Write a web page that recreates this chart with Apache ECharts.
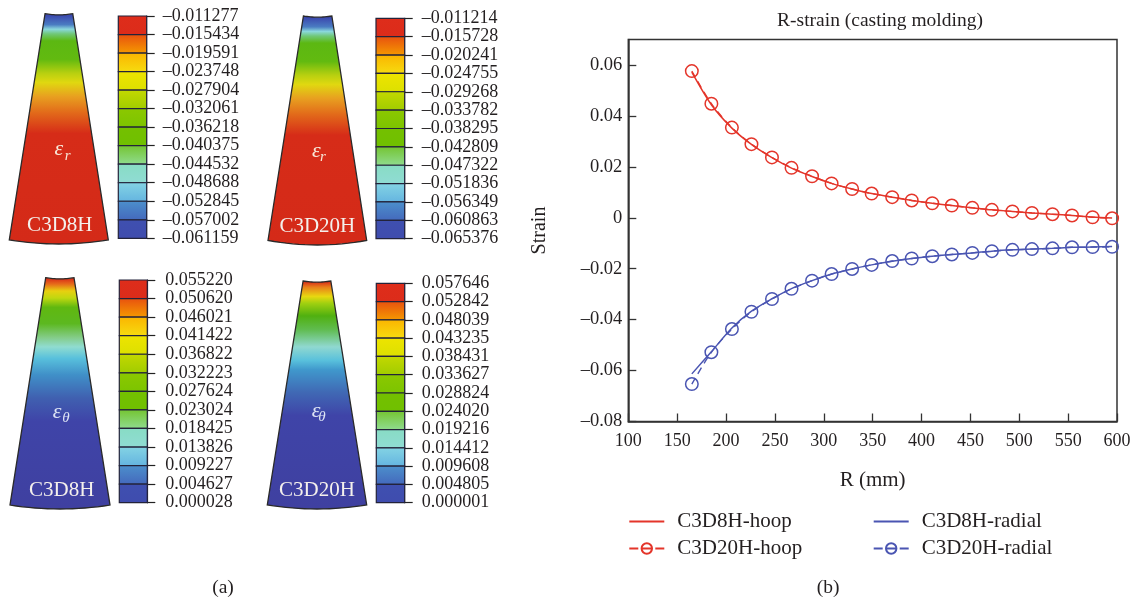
<!DOCTYPE html>
<html>
<head>
<meta charset="utf-8">
<style>html,body{margin:0;padding:0;background:#fff}#c{width:1136px;height:600px}</style>
<script src="https://cdn.jsdelivr.net/npm/echarts@6/dist/echarts.min.js"></script>
</head>
<body>
<div id="c"></div>
<script>
// ---- line chart data (b) ----
const radiusMm = [165,185,206,226,247,267,288,308,329,349,370,390,411,431,452,472,493,513,534,554,575,595];
const hoop8  = [0.0572,0.0444,0.0352,0.0288,0.0236,0.0195,0.0162,0.0135,0.0113,0.0095,0.0081,0.0068,0.0057,0.0048,0.0039,0.0031,0.0025,0.0019,0.0014,0.0009,0.0003,-0.0001];
const hoop20 = [0.0576,0.0448,0.0354,0.0289,0.0237,0.0196,0.0163,0.0135,0.0113,0.0095,0.0081,0.0068,0.0057,0.0048,0.0039,0.0031,0.0025,0.0019,0.0014,0.0009,0.0002,-0.0002];
const radial8  = [-0.0613,-0.0526,-0.0433,-0.0367,-0.0318,-0.0278,-0.0247,-0.0221,-0.0201,-0.0185,-0.0171,-0.0160,-0.0151,-0.0144,-0.0138,-0.0131,-0.0126,-0.0123,-0.0120,-0.0116,-0.0115,-0.0113];
const radial20 = [-0.0653,-0.0528,-0.0437,-0.0369,-0.0319,-0.0279,-0.0247,-0.0221,-0.0201,-0.0185,-0.0170,-0.0160,-0.0151,-0.0144,-0.0138,-0.0131,-0.0126,-0.0123,-0.0120,-0.0116,-0.0115,-0.0114];
const xTicks = [100,150,200,250,300,350,400,450,500,550,600];
const yTicks = [-0.08,-0.06,-0.04,-0.02,0,0.02,0.04,0.06];

// ---- colour bar tick labels (a) ----
const labelsRadial8  = ['–0.011277','–0.015434','–0.019591','–0.023748','–0.027904','–0.032061','–0.036218','–0.040375','–0.044532','–0.048688','–0.052845','–0.057002','–0.061159'];
const labelsRadial20 = ['–0.011214','–0.015728','–0.020241','–0.024755','–0.029268','–0.033782','–0.038295','–0.042809','–0.047322','–0.051836','–0.056349','–0.060863','–0.065376'];
const labelsHoop8  = ['0.055220','0.050620','0.046021','0.041422','0.036822','0.032223','0.027624','0.023024','0.018425','0.013826','0.009227','0.004627','0.000028'];
const labelsHoop20 = ['0.057646','0.052842','0.048039','0.043235','0.038431','0.033627','0.028824','0.024020','0.019216','0.014412','0.009608','0.004805','0.000001'];

// ---- styles ----
const RED = '#E4352A', BLUE = '#4A55B2', INK = '#231F20', SERIF = '"Liberation Serif", serif';
const bandTop = ['#DE2D1B','#E8500F','#FBB400','#EEE400','#C4D800','#8CC800','#74C000','#74C430','#88DCC4','#84D4E4','#4C90CC','#3F50B0'];
const bandBot = ['#DC2C1A','#F59A00','#F6DC10','#DCE000','#A0CC00','#7CC400','#70C000','#90DC90','#90DCD4','#64B4E0','#4468BC','#3F4CAE'];
const gradRadial = [[0.01,'#3B48AE'],[0.05,'#4A7CC2'],[0.07,'#8AD8DC'],[0.09,'#70C878'],[0.12,'#5CB812'],[0.2,'#62BA10'],[0.26,'#B8D010'],[0.3,'#E0D810'],[0.36,'#E8A020'],[0.43,'#E26A1A'],[0.52,'#D62C18'],[1,'#D42A18']];
const gradHoop8 = [[0.005,'#D82A18'],[0.03,'#E66A1A'],[0.06,'#E8D010'],[0.09,'#C0D810'],[0.13,'#60B810'],[0.2,'#5CB820'],[0.26,'#84CC88'],[0.3,'#90DCD0'],[0.35,'#58C0DC'],[0.42,'#4090C8'],[0.52,'#4060B0'],[0.62,'#3F44A8'],[1,'#3F40A0']];
const gradHoop20 = [[0.005,'#D82A18'],[0.03,'#E8801A'],[0.07,'#E8D810'],[0.1,'#A0D010'],[0.155,'#50B010'],[0.215,'#60BC50'],[0.29,'#90D8D0'],[0.35,'#58C0DC'],[0.39,'#4098CC'],[0.49,'#4068B4'],[0.59,'#3F44A8'],[1,'#3F40A0']];

// ---- panel layout ----
const panels = [
 {labels:labelsRadial8, grad:gradRadial, caption:'C3D8H', sym:'r', symColor:'#F8E8D8', bar:[118.3,16,28.4,222.3], margin:16,
  wedge:[9.3,13.7,99,230.3], taper:[0.361,0.641], edge:0.982, capX:0.51, capY:0.92, symX:0.5, symY:0.59, subX:0.59, subY:0.617},
 {labels:labelsRadial20, grad:gradRadial, caption:'C3D20H', sym:'r', symColor:'#F8E8D8', bar:[376,18.3,28.7,220.4], margin:17,
  wedge:[268,16,98.7,229], taper:[0.359,0.647], edge:0.98, capX:0.5, capY:0.92, symX:0.49, symY:0.59, subX:0.557, subY:0.617},
 {labels:labelsHoop8, grad:gradHoop8, caption:'C3D8H', sym:'θ', symColor:'#DDE4F4', bar:[119.3,280,28,222.7], margin:18,
  wedge:[10,277.7,100,231.3], taper:[0.357,0.64], edge:0.983, capX:0.517, capY:0.922, symX:0.47, symY:0.58, subX:0.56, subY:0.606},
 {labels:labelsHoop20, grad:gradHoop20, caption:'C3D20H', sym:'θ', symColor:'#DDE4F4', bar:[376.3,283.3,28.4,219.4], margin:17,
  wedge:[267.3,281,99.4,228], taper:[0.36,0.639], edge:0.982, capX:0.5, capY:0.92, symX:0.49, symY:0.573, subX:0.55, subY:0.595}
];

const grids = [{left:628.3, right:19, top:39.5, bottom:178.5, show:true, borderColor:'#333', borderWidth:1.5, backgroundColor:'transparent'}];
const xAxes = [{
  type:'value', gridIndex:0, min:100, max:600,
  name:'R (mm)', nameLocation:'middle', nameGap:48, nameTextStyle:{fontFamily:SERIF,fontSize:21,color:INK},
  axisLine:{show:true,onZero:false,lineStyle:{color:'#333',width:1.5}},
  axisTick:{show:true,inside:true,length:8,lineStyle:{color:'#333',width:1.3},customValues:xTicks},
  axisLabel:{fontFamily:SERIF,fontSize:18,color:INK,margin:11,customValues:xTicks},
  splitLine:{show:false}
}];
const yAxes = [{
  type:'value', gridIndex:0, min:-0.08, max:0.07,
  name:'Strain', nameLocation:'middle', nameGap:79, nameTextStyle:{fontFamily:SERIF,fontSize:20,color:INK},
  axisLine:{show:true,onZero:false,lineStyle:{color:'#333',width:1.5}},
  axisTick:{show:true,inside:true,length:8,lineStyle:{color:'#333',width:1.3},customValues:yTicks},
  axisLabel:{fontFamily:SERIF,fontSize:18.5,color:INK,margin:6,customValues:yTicks,
    formatter:v=>{const r=Math.round(v*100)/100; return r===0?'0':(r<0?'–':'')+Math.abs(r).toFixed(2);}},
  splitLine:{show:false}
}];
const series = [
 {name:'C3D20H-hoop',type:'line',xAxisIndex:0,yAxisIndex:0,data:radiusMm.map((r,i)=>[r,hoop20[i]]),smooth:0.3,symbol:'circle',symbolSize:12.5,showAllSymbol:true,
  lineStyle:{color:RED,width:1.4,type:[7,5]},itemStyle:{color:'rgba(255,255,255,0)',borderColor:RED,borderWidth:1.5},z:3},
 {name:'C3D20H-radial',type:'line',xAxisIndex:0,yAxisIndex:0,data:radiusMm.map((r,i)=>[r,radial20[i]]),smooth:0.3,symbol:'circle',symbolSize:12.5,showAllSymbol:true,
  lineStyle:{color:BLUE,width:1.4,type:[7,5]},itemStyle:{color:'rgba(255,255,255,0)',borderColor:BLUE,borderWidth:1.5},z:3},
 {name:'C3D8H-hoop',type:'line',xAxisIndex:0,yAxisIndex:0,data:radiusMm.map((r,i)=>[r,hoop8[i]]),smooth:0.3,symbol:'none',
  lineStyle:{color:RED,width:1.5},itemStyle:{color:RED},z:4},
 {name:'C3D8H-radial',type:'line',xAxisIndex:0,yAxisIndex:0,data:radiusMm.map((r,i)=>[r,radial8[i]]),smooth:0.3,symbol:'none',
  lineStyle:{color:BLUE,width:1.5},itemStyle:{color:BLUE},z:4}
];

panels.forEach(p=>{
  // colour bar
  let g = grids.length;
  grids.push({left:p.bar[0],top:p.bar[1],width:p.bar[2],height:p.bar[3],show:false});
  xAxes.push({type:'value',gridIndex:g,min:0,max:1,show:false});
  yAxes.push({type:'category',gridIndex:g,data:p.labels,inverse:true,boundaryGap:false,position:'right',
    axisLine:{show:true,onZero:false,lineStyle:{color:'#23233a',width:1.2}},
    axisTick:{show:true,alignWithLabel:true,interval:0,length:8,lineStyle:{color:'#222',width:1.2}},
    axisLabel:{interval:0,showMinLabel:true,showMaxLabel:true,fontFamily:SERIF,fontSize:18,color:INK,margin:p.margin,hideOverlap:false},
    splitLine:{show:false}});
  series.push({type:'custom',xAxisIndex:g,yAxisIndex:g,silent:true,clip:false,
    data:bandTop.map((_,i)=>[0,i]),encode:{x:0,y:1},
    renderItem:(params,api)=>{
      const i=api.value(1), a=api.coord([0,i]), b=api.coord([1,i+1]);
      return {type:'rect',shape:{x:a[0],y:a[1],width:b[0]-a[0],height:b[1]-a[1]},
        style:{fill:new echarts.graphic.LinearGradient(0,0,0,1,[{offset:0,color:bandTop[i]},{offset:1,color:bandBot[i]}]),stroke:'#23233a',lineWidth:1.2}};
    }});
  // wedge
  g = grids.length;
  grids.push({left:p.wedge[0],top:p.wedge[1],width:p.wedge[2],height:p.wedge[3],show:false});
  xAxes.push({type:'value',gridIndex:g,min:0,max:1,show:false});
  yAxes.push({type:'value',gridIndex:g,min:0,max:1,inverse:true,show:false});
  series.push({type:'custom',xAxisIndex:g,yAxisIndex:g,silent:true,clip:false,data:[[0,0]],
    renderItem:(params,api)=>{
      const pts=[], n=16, L=p.taper[0], R=p.taper[1];
      for(let k=0;k<=n;k++){const t=k/n; pts.push(api.coord([L+(R-L)*t,0.005*(1-Math.pow(2*t-1,2))]));}
      for(let k=0;k<=n;k++){const t=k/n; pts.push(api.coord([1-t,p.edge+(1-p.edge)*(1-Math.pow(2*t-1,2))]));}
      const cap=api.coord([p.capX,p.capY]), s=api.coord([p.symX,p.symY]), u=api.coord([p.subX,p.subY]);
      return {type:'group',children:[
        {type:'polygon',shape:{points:pts},style:{fill:new echarts.graphic.LinearGradient(0,0,0,1,p.grad.map(c=>({offset:c[0],color:c[1]}))),stroke:'#2a2a2a',lineWidth:1.3}},
        {type:'text',x:cap[0],y:cap[1],style:{text:p.caption,fill:'#F4F0EC',font:'21px '+SERIF,textAlign:'center',textVerticalAlign:'middle'}},
        {type:'text',x:s[0],y:s[1],style:{text:'ε',fill:p.symColor,font:'italic 22px '+SERIF,textAlign:'center',textVerticalAlign:'middle'}},
        {type:'text',x:u[0],y:u[1],style:{text:p.sym,fill:p.symColor,font:'italic 15px '+SERIF,textAlign:'center',textVerticalAlign:'middle'}}
      ]};
    }});
});

const chart = echarts.init(document.getElementById('c'),null,{renderer:'canvas'});
const hiddenMark = {color:'rgba(0,0,0,0)',borderColor:'rgba(0,0,0,0)',borderWidth:0};
const legendDash = [9,3,11,3,9];
const legendCommon = {orient:'vertical',top:511,itemWidth:35,itemHeight:13,itemGap:6,
  textStyle:{fontFamily:SERIF,fontSize:21,color:INK,padding:[0,0,0,8]},padding:0,selectedMode:false};
const captionStyle = {fontFamily:SERIF,fontSize:19.5,fontWeight:'normal',color:INK};
chart.setOption({
  animation:false,
  backgroundColor:'#fff',
  title:[
    {text:'R-strain (casting molding)',left:880,top:11,textAlign:'center',textStyle:captionStyle,padding:0},
    {text:'(a)',left:223,top:578,textAlign:'center',textStyle:captionStyle,padding:0},
    {text:'(b)',left:828,top:578,textAlign:'center',textStyle:captionStyle,padding:0}
  ],
  legend:[
    Object.assign({},legendCommon,{left:628.3,data:[{name:'C3D8H-hoop',itemStyle:hiddenMark},{name:'C3D20H-hoop',lineStyle:{type:legendDash}}]}),
    Object.assign({},legendCommon,{left:872.7,data:[{name:'C3D8H-radial',itemStyle:hiddenMark},{name:'C3D20H-radial',lineStyle:{type:legendDash}}]})
  ],
  grid:grids, xAxis:xAxes, yAxis:yAxes, series:series
});
</script>
</body>
</html>
